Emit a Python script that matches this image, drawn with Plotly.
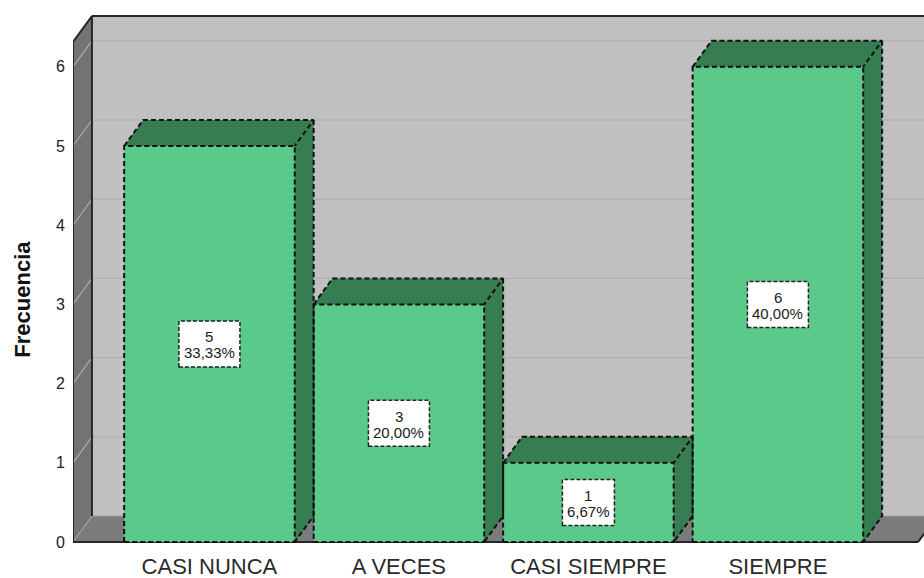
import plotly.graph_objects as go

# ---- data ----
categories = ["CASI NUNCA", "A VECES", "CASI SIEMPRE", "SIEMPRE"]
counts = [5, 3, 1, 6]
y_ticks = [0, 1, 2, 3, 4, 5, 6]
y_title = "Frecuencia"

# ---- style / geometry constants ----
FRONT = "#5BC98A"
DARK = "#377D52"
WALL = "#C0C0C0"
SIDE_WALL = "#737373"
FLOOR = "#7B7B7B"
BAR_W = 0.9
DX = 0.1          # depth offset in x units
DY = 0.328        # depth offset in y units
AX_LEFT = -0.72
AX_RIGHT = 3.74
AX_TOP = 6.313
FONT = "Liberation Sans, Arial, sans-serif"
DASH = "5px,3px"

total = sum(counts)
pct_labels = [("%.2f%%" % (c / total * 100)).replace(".", ",") for c in counts]
idx = list(range(len(categories)))

fig = go.Figure()

shapes = []
# back wall
shapes.append(dict(type="rect", xref="x", yref="y", layer="below",
                   x0=AX_LEFT + DX, x1=AX_RIGHT + 2, y0=DY, y1=AX_TOP + DY,
                   fillcolor=WALL, line=dict(width=0)))
# left wall
shapes.append(dict(type="path", xref="x", yref="y", layer="below",
                   path=f"M {AX_LEFT},0 L {AX_LEFT},{AX_TOP} L {AX_LEFT+DX},{AX_TOP+DY} L {AX_LEFT+DX},{DY} Z",
                   fillcolor=SIDE_WALL, line=dict(width=0)))
# floor
shapes.append(dict(type="path", xref="x", yref="y", layer="below",
                   path=f"M {AX_LEFT},0 L {AX_LEFT+DX},{DY} L {AX_RIGHT+DX},{DY} L {AX_RIGHT},0 Z",
                   fillcolor=FLOOR, line=dict(width=0)))
# grid lines on back wall and left wall
for t in y_ticks[1:]:
    shapes.append(dict(type="line", xref="x", yref="y", layer="below",
                       x0=AX_LEFT + DX, x1=AX_RIGHT + 2, y0=t + DY, y1=t + DY,
                       line=dict(color="#B0B0B0", width=1.2)))
    shapes.append(dict(type="line", xref="x", yref="y", layer="below",
                       x0=AX_LEFT, x1=AX_LEFT + DX, y0=t, y1=t + DY,
                       line=dict(color="#ABABAB", width=1.2)))
# back-floor edge and floor-left diagonal (light)
shapes.append(dict(type="line", xref="x", yref="y", layer="below",
                   x0=AX_LEFT + DX, x1=AX_RIGHT + 2, y0=DY, y1=DY,
                   line=dict(color="#A0A0A0", width=1.2)))
shapes.append(dict(type="line", xref="x", yref="y", layer="below",
                   x0=AX_LEFT, x1=AX_LEFT + DX, y0=0, y1=DY,
                   line=dict(color="#A0A0A0", width=1.2)))
# dark frame lines
for (x0, y0, x1, y1) in [
    (AX_LEFT, 0, AX_LEFT, AX_TOP),
    (AX_LEFT, AX_TOP, AX_LEFT + DX, AX_TOP + DY),
    (AX_LEFT + DX, DY, AX_LEFT + DX, AX_TOP + DY),
    (AX_LEFT + DX, AX_TOP + DY, AX_RIGHT + 2, AX_TOP + DY),
    (AX_LEFT, 0, AX_RIGHT, 0),
    (AX_RIGHT, 0, AX_RIGHT + DX, DY),
]:
    shapes.append(dict(type="line", xref="x", yref="y", layer="below",
                       x0=x0, y0=y0, x1=x1, y1=y1,
                       line=dict(color="#262626", width=2)))

# front faces as real bars
fig.add_trace(go.Bar(x=idx, y=counts, width=BAR_W,
                     marker=dict(color=FRONT, line=dict(width=0)),
                     hoverinfo="skip", showlegend=False))

# top and side faces
out_x, out_y = [], []
for i, v in zip(idx, counts):
    L, R = i - BAR_W / 2, i + BAR_W / 2
    fig.add_trace(go.Scatter(x=[L, R, R + DX, L + DX, L], y=[v, v, v + DY, v + DY, v],
                             fill="toself", fillcolor=DARK, mode="lines",
                             line=dict(width=0), hoverinfo="skip", showlegend=False))
    fig.add_trace(go.Scatter(x=[R, R + DX, R + DX, R, R], y=[0, DY, v + DY, v, 0],
                             fill="toself", fillcolor=DARK, mode="lines",
                             line=dict(width=0), hoverinfo="skip", showlegend=False))
    out_x += [L, R, R, L, L, None, L, L + DX, R + DX, R, None, R + DX, R + DX, R, None]
    out_y += [0, 0, v, v, 0, None, v, v + DY, v + DY, v, None, v + DY, DY, 0, None]

fig.add_trace(go.Scatter(x=out_x, y=out_y, mode="lines",
                         line=dict(color="#111111", width=2, dash=DASH),
                         hoverinfo="skip", showlegend=False, connectgaps=False))

# value label boxes
annotations = []
for i, v, p in zip(idx, counts, pct_labels):
    w = 9 * len(p) + 7
    shapes.append(dict(type="rect", xref="x", yref="y", layer="above",
                       xsizemode="pixel", ysizemode="pixel", xanchor=i, yanchor=v / 2,
                       x0=-w / 2, x1=w / 2, y0=-23, y1=23,
                       fillcolor="white", line=dict(color="#222222", width=1.5, dash="4px,2px")))
    annotations.append(dict(x=i, y=v / 2, xref="x", yref="y", text=str(v), showarrow=False,
                            yshift=7, font=dict(family=FONT, size=15, color="#1a1a1a")))
    annotations.append(dict(x=i, y=v / 2, xref="x", yref="y", text=p, showarrow=False,
                            yshift=-9, font=dict(family=FONT, size=15, color="#1a1a1a")))

annotations.append(dict(x=0, y=3.06, xref="paper", yref="y", text="<b>" + y_title + "</b>",
                        showarrow=False, textangle=-90, xshift=-50, xanchor="center",
                        font=dict(family=FONT, size=22, color="#111111")))

fig.update_layout(
    width=924, height=578,
    margin=dict(l=73, r=0, t=10, b=30),
    paper_bgcolor="white", plot_bgcolor="white",
    shapes=shapes, annotations=annotations,
    bargap=0, showlegend=False,
    xaxis=dict(range=[-0.72, 3.771], tickmode="array", tickvals=idx, ticktext=categories,
               showgrid=False, zeroline=False, showline=False, ticks="",
               ticklabelstandoff=3,
               tickfont=dict(family=FONT, size=22, color="#2a2a2a"), fixedrange=True),
    yaxis=dict(range=[-0.076, 6.717], tickmode="array", tickvals=y_ticks,
               ticktext=[str(t) for t in y_ticks],
               showgrid=False, zeroline=False, showline=False, ticks="",
               ticklabelstandoff=7,
               tickfont=dict(family=FONT, size=16, color="#222222"), fixedrange=True),
)

fig.write_html("out.html", config={"displayModeBar": False},
               post_script="document.body.style.margin='0px';document.body.style.overflow='hidden';")
